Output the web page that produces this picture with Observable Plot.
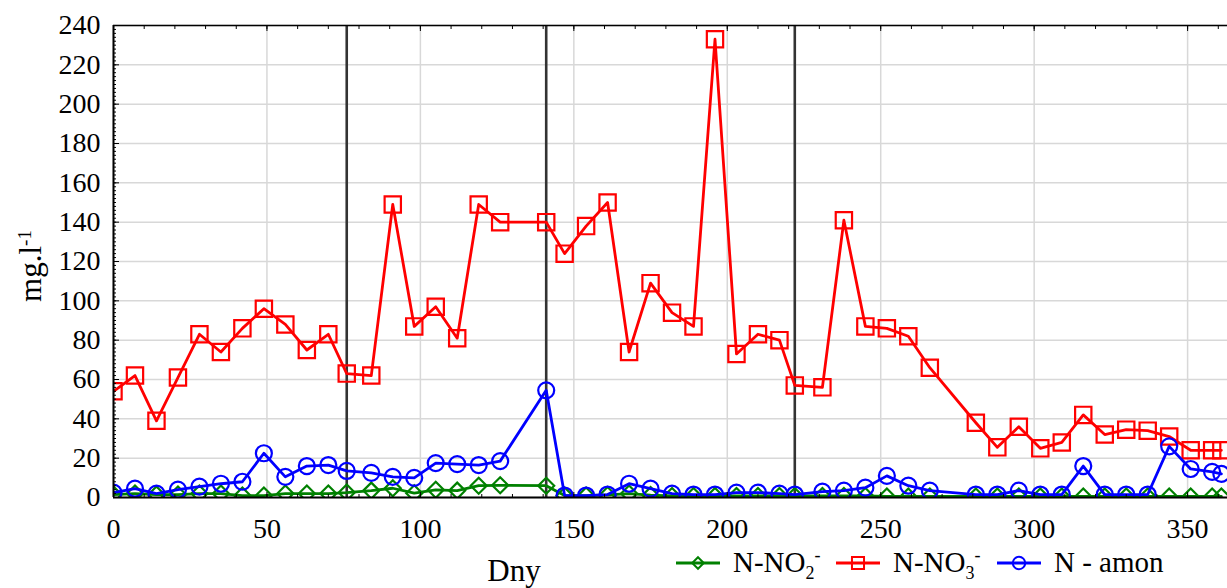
<!DOCTYPE html>
<html><head><meta charset="utf-8">
<script src="https://cdn.jsdelivr.net/npm/d3@7"></script>
<script src="https://cdn.jsdelivr.net/npm/@observablehq/plot@0.6"></script>
<style>
body{margin:0;background:#fff;font-family:"Liberation Serif",serif;}
#wrap{position:relative;width:1227px;height:588px;overflow:hidden;}
.leg{position:absolute;top:548px;display:flex;align-items:center;font-size:29px;line-height:1;color:#000;white-space:nowrap;font-family:"Liberation Serif",serif;}
.leg svg{margin-right:13px;display:block;}
sub,sup{font-size:0.62em;line-height:0;}
</style></head><body><div id="wrap"></div>
<script>
// Sampling days (x) and concentrations in mg.l-1
const days = [0,7,14,21,28,35,42,49,56,63,70,76,84,91,98,105,112,119,126,141,147,154,161,168,175,182,189,196,203,210,217,222,231,238,245,252,259,266,281,288,295,302,309,316,323,330,337,344,351,358,361];
const no2 = [1.5,2,1.5,1.5,2,2,1,1,2,2,2,2.5,3.5,4.7,2.2,3.9,3.5,6,6.2,6,1,1,1.3,2,1.2,0.8,0.8,0.8,0.8,0.8,0.8,0.8,0.8,0.8,0.8,0.5,0.5,0.5,0.5,0.5,0.5,0.5,0.5,0.5,0.5,0.5,0.5,0.5,0.5,0.5,0.5];
const no3 = [54,62,39,61,83,74,86,96,88,75,83,63,62,149,87,97,81,149,140,140,124,138,150,74,109,94,87,233,73,83,80,57,56,141,87,86,82,66,38,25.5,36,25,28,42,32,34.5,34,31,24,24,24];
const amon = [2.5,4.5,2,4,5.5,7,8,22.5,10.5,16,16.5,13.5,12.5,10.5,10,17.5,17,16.5,18.5,54.5,1,1,1.5,7,4.5,2,1.5,1.5,2.5,2.5,2,1.5,3,3.5,5,11,6,3.5,1.5,1.5,3.5,1.5,1.5,16,1.5,1.5,1.5,26,14.5,13,12];
const boundaries = [76, 141, 222];
const xTicks = [0,50,100,150,200,250,300,350];
const yTicks = [0,20,40,60,80,100,120,140,160,180,200,220,240];
const seriesNames = ["N-NO2-", "N-NO3-", "N - amon"];
const seriesColors = ["#008000", "#ff0000", "#0000ff"];
const seriesSymbols = ["diamond2", "square", "circle"];
const seriesR = [7.2, 9.2, 8];
const seriesValues = [no2, no3, amon];

const W = 1227, H = 588;
const rowsOf = (vals) => days.map((d, i) => ({day: d, v: vals[i]}));

const seriesMarks = [];
seriesValues.forEach((vals, k) => {
  const rows = rowsOf(vals);
  seriesMarks.push(Plot.line(rows, {x: "day", y: "v", stroke: seriesColors[k], strokeWidth: 2.8, clip: true}));
  seriesMarks.push(Plot.dot(rows, {x: "day", y: "v", symbol: seriesSymbols[k], r: seriesR[k], stroke: seriesColors[k], strokeWidth: 2.2, fill: "none", clip: true}));
});

const chart = Plot.plot({
  width: W, height: H,
  marginLeft: 113, marginRight: 0, marginTop: 25, marginBottom: 91,
  style: {fontFamily: "Liberation Serif", fontSize: "28px", color: "#000", background: "#fff"},
  x: {domain: [0, 363]},
  y: {domain: [0, 240]},
  marks: [
    Plot.gridY(yTicks, {stroke: "#d8d8d8", strokeOpacity: 1, strokeWidth: 1.5}),
    Plot.gridX(xTicks, {stroke: "#d8d8d8", strokeOpacity: 1, strokeWidth: 1.5}),
    Plot.ruleX(boundaries, {stroke: "#333", strokeWidth: 2.6}),
    ...seriesMarks,
    Plot.ruleY([0], {stroke: "#000", strokeWidth: 2}),
    Plot.ruleY([240], {stroke: "#000", strokeWidth: 1.5}),
    Plot.ruleX([0], {stroke: "#000", strokeWidth: 2}),
    Plot.axisY(yTicks, {tickSize: 0, tickPadding: 13, fontSize: 28, label: null}),
    Plot.axisY(d3.range(0, 241, 2), {tickSize: 3, dx: 3, fill: "none", label: null}),
    Plot.axisY(yTicks, {tickSize: 6, dx: 6, fill: "none", label: null}),
    Plot.axisX(xTicks, {anchor: "bottom", tickSize: 0, tickPadding: 21, fontSize: 28, label: null}),
    Plot.axisX(d3.range(0, 361, 10), {anchor: "bottom", tickSize: 3, dy: -3, fill: "none", label: null}),
    Plot.axisX(xTicks, {anchor: "bottom", tickSize: 5, dy: -5, fill: "none", label: null}),
    Plot.axisX(d3.range(0, 361, 10), {anchor: "top", tickSize: 3, dy: 3, fill: "none", label: null}),
    Plot.axisX(xTicks, {anchor: "top", tickSize: 5, dy: 5, fill: "none", label: null})
  ]
});

const svg = d3.select(chart);
const yl = svg.append("text")
  .attr("transform", "translate(41,266) rotate(-90)")
  .attr("text-anchor", "middle")
  .attr("fill", "#000")
  .style("font-family", "Liberation Serif")
  .style("font-size", "31px");
yl.append("tspan").text("mg.l");
yl.append("tspan").attr("dy", "-0.55em").style("font-size", "19px").text("-1");

svg.append("text")
  .attr("x", 514).attr("y", 581)
  .attr("text-anchor", "middle")
  .attr("fill", "#000")
  .style("font-family", "Liberation Serif")
  .style("font-size", "31px")
  .text("Dny");

const wrap = document.getElementById("wrap");
wrap.appendChild(chart);

// Legend
const legLeft = [676, 836, 997];
const legHTML = ["N-NO<sub>2</sub><sup>-</sup>", "N-NO<sub>3</sub><sup>-</sup>", "N - amon"];
const legR = [5.2, 6.8, 6.2];
seriesNames.forEach((name, k) => {
  const div = document.createElement("div");
  div.className = "leg";
  div.style.left = legLeft[k] + "px";
  const sw = d3.create("svg").attr("width", 44).attr("height", 20);
  sw.append("line").attr("x1", 0).attr("x2", 44).attr("y1", 10).attr("y2", 10)
    .attr("stroke", seriesColors[k]).attr("stroke-width", 2.8);
  const symType = k === 0 ? d3.symbolDiamond2 : k === 1 ? d3.symbolSquare : d3.symbolCircle;
  sw.append("path").attr("transform", "translate(22,10)")
    .attr("d", d3.symbol(symType, Math.PI * legR[k] * legR[k])())
    .attr("fill", "none").attr("stroke", seriesColors[k]).attr("stroke-width", 2);
  div.appendChild(sw.node());
  const span = document.createElement("span");
  span.innerHTML = legHTML[k];
  div.appendChild(span);
  wrap.appendChild(div);
});
</script>
</body></html>
